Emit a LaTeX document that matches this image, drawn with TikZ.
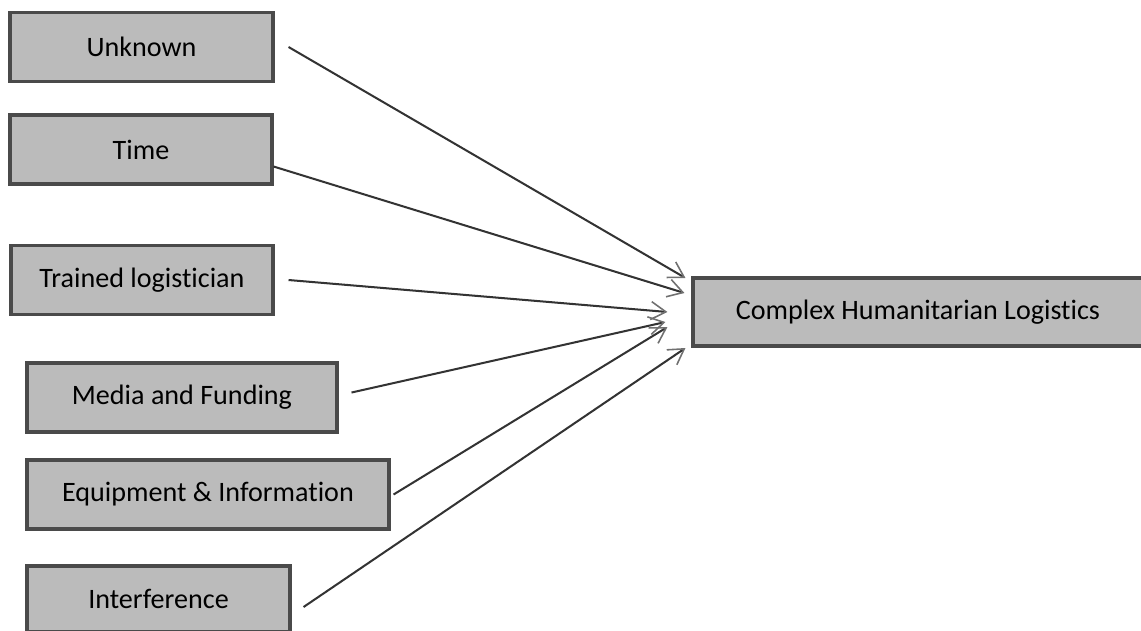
\documentclass[tikz,border=0pt]{standalone}
\usepackage{fontspec}
\setmainfont{Carlito}[Ligatures=NoCommon]
\usetikzlibrary{arrows.meta, positioning, calc}
\definecolor{boxfill}{HTML}{BBBBBB}
\definecolor{boxline}{HTML}{4A4A4A}
\definecolor{linkgray}{HTML}{333333}
\definecolor{tipgray}{HTML}{707070}

\begin{document}
\begin{tikzpicture}[
    x=0.02cm, y=-0.02cm,
    every node/.style={font=\fontsize{16}{19}\selectfont},
    factor/.style={draw=boxline, fill=boxfill, line width=1.8pt, minimum height=1.38cm, inner sep=0pt, anchor=center},
    link/.style={line width=1.15pt, linkgray, -{Straight Barb[length=3mm, width=3.6mm, line width=0.9pt, color=tipgray]}}
]
\useasboundingbox (0,0) rectangle (1141,630);
% Factors
\node[factor, minimum width=5.26cm] (unknown) at (141.5,47) {Unknown};
\node[factor, minimum width=5.24cm] (time) at (141,149.5) {Time};
\node[factor, minimum width=5.24cm] (trained) at (142,280) {Trained logistician};
\node[factor, minimum width=6.20cm] (media) at (182,397.5) {Media and Funding};
\node[factor, minimum width=7.24cm] (equip) at (208,494.5) {Equipment \& Information};
\node[factor, minimum width=5.26cm, minimum height=1.32cm] (interf) at (158.5,599) {Interference};
% Outcome
\node[factor, minimum width=9.0cm, minimum height=1.36cm] (cx) at (918,312) {Complex Humanitarian Logistics};

% Links
\draw[link] ([xshift=0.28cm]unknown.east) -- ($(cx.west)+(-6,-34)$);
\draw[link] ([yshift=-0.34cm]time.east) -- ($(cx.west)+(-7,-19)$);
\draw[link] ([xshift=0.28cm]trained.east) -- ($(cx.west)+(-24,0)$);
\draw[link] ([xshift=0.26cm, yshift=0.1cm]media.east) -- ($(cx.west)+(-26,10)$);
\draw[link] ([xshift=0.06cm]equip.east) -- ($(cx.west)+(-24,15)$);
\draw[link] ([xshift=0.24cm, yshift=-0.16cm]interf.east) -- ($(cx.west)+(-6,36)$);
\end{tikzpicture}
\end{document}
